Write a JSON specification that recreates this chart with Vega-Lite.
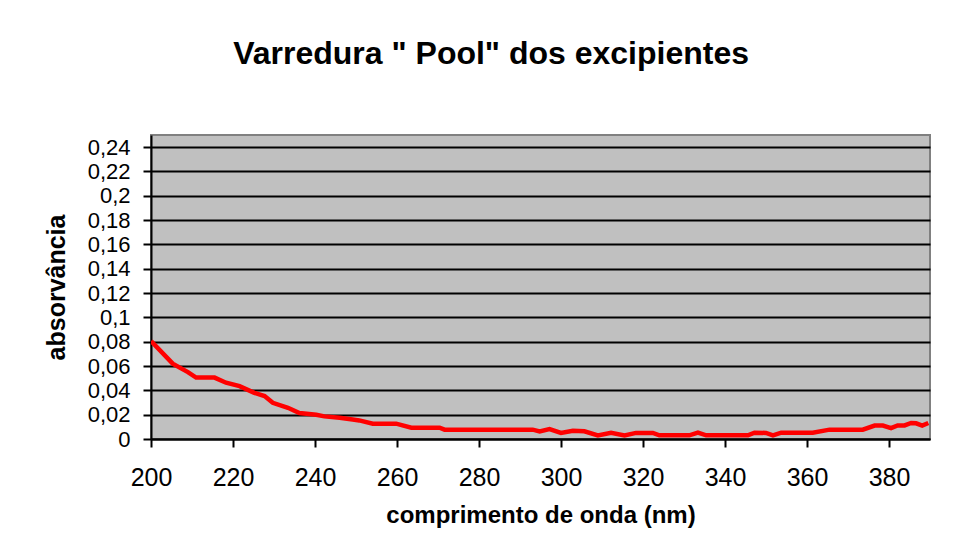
{
  "$schema": "https://vega.github.io/schema/vega-lite/v6.json",
  "width": 779,
  "height": 304,
  "autosize": {"type": "none"},
  "padding": {"left": 151, "top": 135, "right": 28, "bottom": 121},
  "background": "white",
  "title": {
    "text": "Varredura \" Pool\" dos excipientes",
    "font": "Liberation Sans",
    "fontSize": 32,
    "fontWeight": "bold",
    "color": "black",
    "anchor": "middle",
    "frame": "bounds",
    "dx": 4,
    "offset": 64
  },
  "config": {
    "view": {"fill": "#C0C0C0", "stroke": "#808080", "strokeWidth": 2}
  },
  "data": {
    "values": [
      {"nm": 200, "abs": 0.0805},
      {"nm": 205.3, "abs": 0.062},
      {"nm": 209, "abs": 0.055},
      {"nm": 211, "abs": 0.0505},
      {"nm": 215.5, "abs": 0.0505},
      {"nm": 218.3, "abs": 0.0463},
      {"nm": 221.6, "abs": 0.0435},
      {"nm": 225.2, "abs": 0.038},
      {"nm": 227.7, "abs": 0.0353},
      {"nm": 229.7, "abs": 0.0298},
      {"nm": 233.4, "abs": 0.0257},
      {"nm": 236.2, "abs": 0.0213},
      {"nm": 240.3, "abs": 0.02},
      {"nm": 242.3, "abs": 0.0186},
      {"nm": 246, "abs": 0.0175},
      {"nm": 249.2, "abs": 0.016},
      {"nm": 250.8, "abs": 0.0153},
      {"nm": 254.1, "abs": 0.0126},
      {"nm": 259.8, "abs": 0.0126},
      {"nm": 263.5, "abs": 0.0093},
      {"nm": 270.4, "abs": 0.0093},
      {"nm": 271.6, "abs": 0.0077},
      {"nm": 293.1, "abs": 0.0077},
      {"nm": 294.8, "abs": 0.0063},
      {"nm": 297.2, "abs": 0.0082},
      {"nm": 300, "abs": 0.005},
      {"nm": 302.9, "abs": 0.0068},
      {"nm": 305.7, "abs": 0.0063},
      {"nm": 309, "abs": 0.003},
      {"nm": 312.2, "abs": 0.0052},
      {"nm": 315.5, "abs": 0.003},
      {"nm": 318.3, "abs": 0.005},
      {"nm": 322.4, "abs": 0.005},
      {"nm": 324, "abs": 0.003},
      {"nm": 331.3, "abs": 0.003},
      {"nm": 333.4, "abs": 0.0052},
      {"nm": 335.4, "abs": 0.003},
      {"nm": 345.6, "abs": 0.003},
      {"nm": 347.2, "abs": 0.0052},
      {"nm": 350, "abs": 0.005},
      {"nm": 351.7, "abs": 0.003},
      {"nm": 353.7, "abs": 0.0052},
      {"nm": 361.4, "abs": 0.0052},
      {"nm": 365.5, "abs": 0.0077},
      {"nm": 373.6, "abs": 0.0077},
      {"nm": 376.5, "abs": 0.011},
      {"nm": 378.5, "abs": 0.011},
      {"nm": 380.5, "abs": 0.009},
      {"nm": 382.1, "abs": 0.0112},
      {"nm": 383.8, "abs": 0.0112},
      {"nm": 385.4, "abs": 0.0132},
      {"nm": 386.6, "abs": 0.0129},
      {"nm": 388.1, "abs": 0.011},
      {"nm": 389.6, "abs": 0.0132}
    ]
  },
  "mark": {"type": "line", "color": "#FF0000", "strokeWidth": 4.5, "clip": true},
  "encoding": {
    "x": {
      "field": "nm",
      "type": "quantitative",
      "scale": {"domain": [200, 390], "nice": false, "zero": false},
      "axis": {
        "values": [200, 220, 240, 260, 280, 300, 320, 340, 360, 380],
        "grid": false,
        "domainColor": "black",
        "domainWidth": 2,
        "tickColor": "black",
        "tickWidth": 2,
        "tickSize": 8,
        "labelFont": "Liberation Sans",
        "labelFontSize": 25,
        "labelColor": "black",
        "labelPadding": 18,
        "labelFlush": false,
        "title": "comprimento de onda (nm)",
        "titleFont": "Liberation Sans",
        "titleFontSize": 24,
        "titleFontWeight": "bold",
        "titleColor": "black",
        "titlePadding": 13
      }
    },
    "y": {
      "field": "abs",
      "type": "quantitative",
      "scale": {"domain": [0, 0.25], "nice": false},
      "axis": {
        "values": [0, 0.02, 0.04, 0.06, 0.08, 0.1, 0.12, 0.14, 0.16, 0.18, 0.2, 0.22, 0.24],
        "labelExpr": "replace(format(datum.value, '~g'), '.', ',')",
        "grid": true,
        "gridColor": "black",
        "gridWidth": 2,
        "gridOpacity": 1,
        "domainColor": "black",
        "domainWidth": 2,
        "tickColor": "black",
        "tickWidth": 2,
        "tickSize": 8,
        "labelFont": "Liberation Sans",
        "labelFontSize": 22,
        "labelColor": "black",
        "labelPadding": 13,
        "title": "absorvância",
        "titleFont": "Liberation Sans",
        "titleFontSize": 25,
        "titleFontWeight": "bold",
        "titleColor": "black",
        "titlePadding": 18
      }
    }
  }
}
